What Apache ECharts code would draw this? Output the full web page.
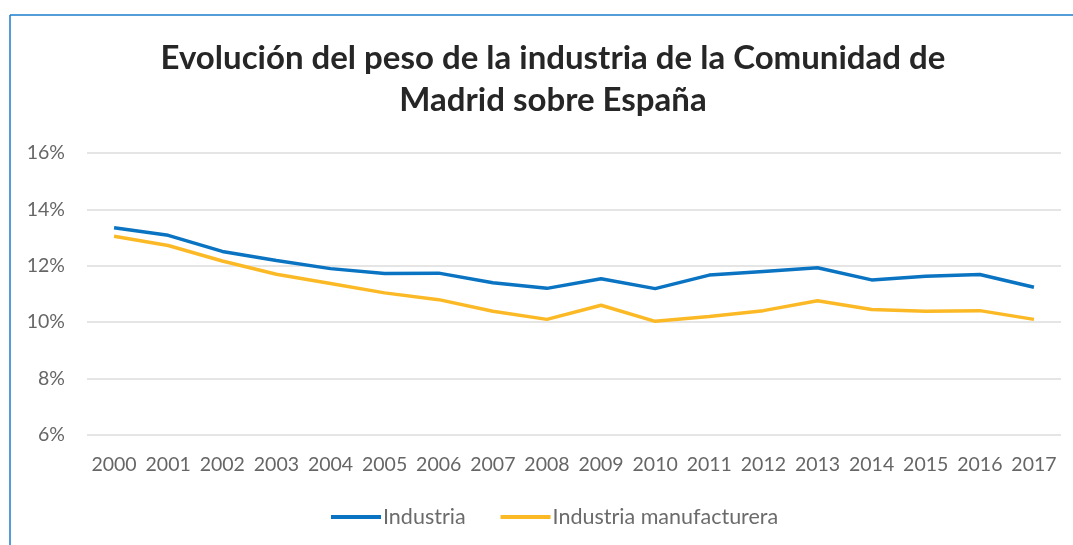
<!DOCTYPE html>
<html>
<head>
<meta charset="utf-8">
<script src="https://cdn.jsdelivr.net/npm/echarts@6/dist/echarts.min.js"></script>
<style>
  html, body { margin: 0; padding: 0; background: #fff; }
  #main { width: 1073px; height: 545px; }
</style>
</head>
<body>
<div id="main"></div>
<script>
        var years = ['2000', '2001', '2002', '2003', '2004', '2005', '2006', '2007', '2008',
            '2009', '2010', '2011', '2012', '2013', '2014', '2015', '2016', '2017'];
        var industria = [13.35, 13.08, 12.51, 12.19, 11.9, 11.73, 11.74, 11.4, 11.2,
            11.54, 11.19, 11.67, 11.8, 11.93, 11.5, 11.63, 11.69, 11.24];
        var manufacturera = [13.05, 12.72, 12.17, 11.7, 11.37, 11.04, 10.8, 10.39, 10.1,
            10.6, 10.03, 10.2, 10.41, 10.76, 10.45, 10.39, 10.41, 10.1];
        var seriesNames = ['Industria', 'Industria manufacturera'];

        var myChart = echarts.init(document.getElementById('main'));
        var font = 'Lato, "Liberation Sans", sans-serif';

        var option = {
            backgroundColor: '#ffffff',
            title: {
                text: 'Evolución del peso de la industria de la Comunidad de\nMadrid sobre España',
                left: 548,
                top: 32,
                textAlign: 'center',
                textStyle: {
                    fontFamily: font,
                    fontWeight: 'bold',
                    fontSize: 33,
                    lineHeight: 42,
                    color: '#262626'
                }
            },
            graphic: [
                { type: 'line', shape: { x1: 10, y1: 15, x2: 1073, y2: 15 }, style: { stroke: '#1a7ccc', lineWidth: 1.5 } },
                { type: 'line', shape: { x1: 10, y1: 15, x2: 10, y2: 545 }, style: { stroke: '#1a7ccc', lineWidth: 1.5 } }
            ],
            legend: {
                left: 326,
                top: 501,
                itemWidth: 50,
                itemHeight: 4,
                itemGap: 35,
                icon: 'rect',
                data: seriesNames,
                textStyle: { fontFamily: font, fontSize: 21.5, color: '#6b6b6b', padding: [0, 0, 0, -3] }
            },
            grid: { left: 87, right: 12, top: 153, bottom: 110 },
            xAxis: {
                type: 'category',
                data: years,
                boundaryGap: true,
                axisLine: { show: false },
                axisTick: { show: false },
                axisLabel: { interval: 0, fontFamily: font, fontSize: 19.5, color: '#666666', margin: 20 }
            },
            yAxis: {
                type: 'value',
                min: 6,
                max: 16,
                interval: 2,
                axisLine: { show: false },
                axisTick: { show: false },
                axisLabel: { fontFamily: font, fontSize: 19.5, color: '#666666', margin: 22, formatter: '{value}%' },
                splitLine: { lineStyle: { color: '#dcdcdc', width: 1.5 } }
            },
            series: [
                {
                    name: seriesNames[0],
                    type: 'line',
                    data: industria,
                    symbol: 'none',
                    color: '#0a74c2',
                    lineStyle: { width: 3.5, color: '#0a74c2' }
                },
                {
                    name: seriesNames[1],
                    type: 'line',
                    data: manufacturera,
                    symbol: 'none',
                    color: '#fcb926',
                    lineStyle: { width: 3.5, color: '#fcb926' }
                }
            ]
        };
        myChart.setOption(option);
</script>
</body>
</html>
